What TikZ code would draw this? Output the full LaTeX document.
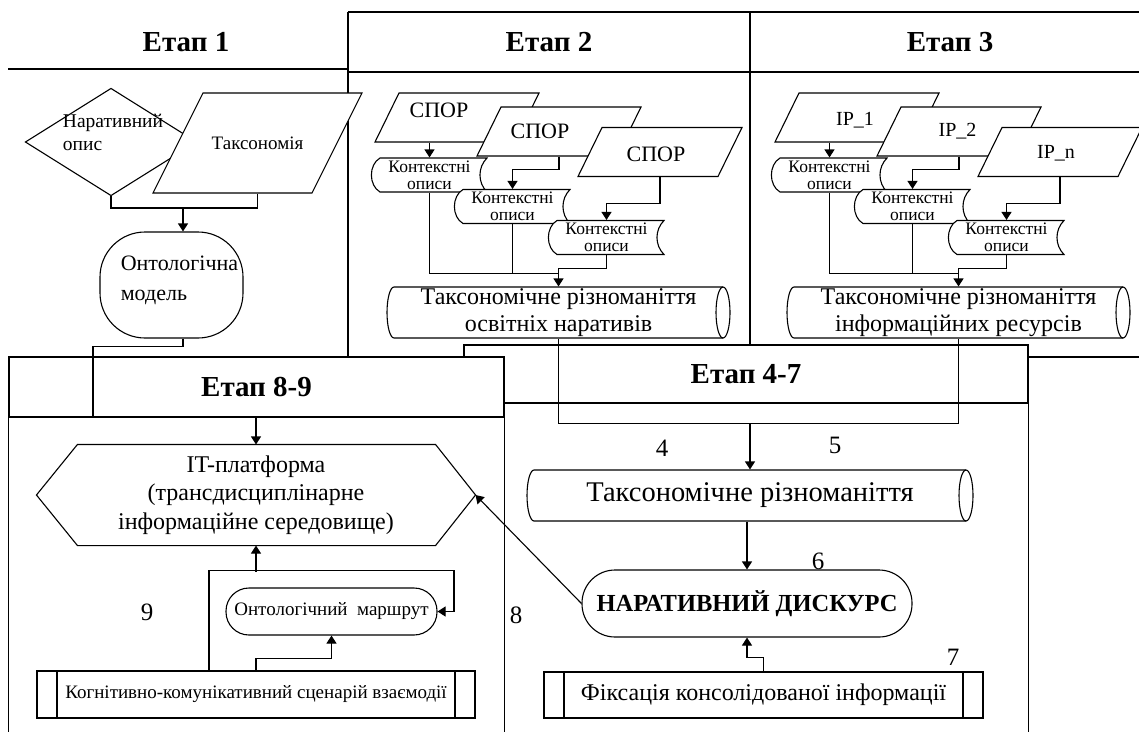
\documentclass[tikz,border=0pt]{standalone}
\usepackage{fontspec}
\setmainfont{Liberation Serif}
\usetikzlibrary{arrows.meta}

% parallelogram: name, centre, side, height, slant, label style, text
\newcommand{\paranode}[7]{%
  \draw[fill=white] (#2) ++({-(#3+#5)/2},{#4/2}) -- ++(#3,0) -- ++(#5,{-#4}) -- ++({-#3},0) -- cycle;
  \node[box, minimum width=#3pt, minimum height=#4pt, label={[#6]center:{#7}}] (#1) at (#2) {};
}
% stored data: name, centre, text
\newcommand{\storednode}[3]{%
  \draw[fill=white] (#2) ++(-49.5,-17) -- ++(107,0) to[out=225,in=135] ++(0,34)
    -- ++(-107,0) to[out=150,in=210] ++(0,-34) -- cycle;
  \node[box, kont, minimum width=115pt, minimum height=34pt] (#1) at (#2) {#3};
}
% cylinder: name, centre, width, height, style, text
\newcommand{\cylnode}[6]{%
  \draw[fill=white] (#2) ++({-#3/2+7},{-#4/2}) -- ++({#3-14},0)
    arc[start angle=90, end angle=-90, x radius=7pt, y radius={#4*0.5pt}]
    -- ++({14-#3},0)
    arc[start angle=270, end angle=90, x radius=7pt, y radius={#4*0.5pt}] -- cycle;
  \draw (#2) ++({#3/2-7},{-#4/2}) arc[start angle=90, end angle=270, x radius=7pt, y radius={#4*0.5pt}];
  \node[box, #5, minimum width=#3pt, minimum height=#4pt] (#1) at (#2) {#6};
}

\begin{document}
\begin{tikzpicture}[
  x=1pt, y=-1pt,
  line width=1.1pt,
  every node/.style={font=\fontsize{19}{23}\selectfont},
  box/.style={rectangle, inner sep=0pt, align=center},
  head/.style={font=\bfseries\fontsize{29}{34}\selectfont},
  kont/.style={font=\fontsize{17.5}{17}\selectfont},
  big/.style={font=\fontsize{24}{27}\selectfont},
  spor/.style={font=\fontsize{22}{26}\selectfont},
  ip/.style={font=\fontsize{20}{24}\selectfont},
  num/.style={font=\fontsize{25}{30}\selectfont},
  subproc/.style={draw, path picture={
    \draw ([xshift=20pt]path picture bounding box.north west) -- ([xshift=20pt]path picture bounding box.south west);
    \draw ([xshift=-20pt]path picture bounding box.north east) -- ([xshift=-20pt]path picture bounding box.south east);}},
  >={Triangle[length=8pt,width=10pt]}
]
\useasboundingbox (0,0) rectangle (1139,731);

% Stage frames
\draw (8,69) -- (348,69);
\draw (348,12) -- (1139,12);
\draw (348,72) -- (1139,72);
\draw (348,12) -- (348,357);
\draw (750,12) -- (750,357);
\draw (348,357) -- (1139,357);
\node[head] (h1) at (186,42) {Етап 1};
\node[head] (h2) at (549,42) {Етап 2};
\node[head] (h3) at (950,42) {Етап 3};
\node[head, box, draw, fill=white, minimum width=564pt, minimum height=58pt] (h47) at (746,374) {Етап 4-7};
\node[head, box, draw, fill=white, minimum width=495pt, minimum height=60pt] (h89) at (256.5,387) {Етап 8-9};
\draw (h89.south west) -- ++(0,314);
\draw (h89.south east) -- ++(0,314);
\draw (h47.south east) -- ++(0,328);

% Stage 1
\node[box, minimum width=170pt, minimum height=106pt,
  label={[font=\fontsize{19.5}{23}\selectfont, align=left, xshift=2pt, yshift=10pt]center:Наративний\\опис}] (narr) at (111,142) {};
\draw (narr.west) -- (narr.north) -- (narr.east) -- (narr.south) -- cycle;
\paranode{taks}{257.5,143}{159}{100}{50}{}{Таксономія}
\node[box, draw, rounded corners=45pt, minimum width=143pt, minimum height=106pt,
  label={[font=\fontsize{22}{30}\selectfont, align=left, xshift=8pt, yshift=5pt]center:Онтологічна\\модель}] (onto) at (171.5,285) {};

% Stage 2
\paranode{spor1}{457,117.5}{140}{49}{24}{spor, xshift=-18pt, yshift=7.5pt}{СПОР}
\paranode{spor2}{559,131.5}{140}{49}{24}{spor, xshift=-19pt}{СПОР}
\paranode{spor3}{660,152}{140}{49}{24}{spor, xshift=-4pt, yshift=-2pt}{СПОР}
\storednode{ko1}{429.5,175}{Контекстні\\описи}
\storednode{ko2}{512.5,206.5}{Контекстні\\описи}
\storednode{ko3}{606.5,237.5}{Контекстні\\описи}
\cylnode{div2}{558.5,312.5}{343}{51}{big}{Таксономічне різноманіття\\освітніх наративів}

% Stage 3
\paranode{ip1}{857,117.5}{140}{49}{24}{ip, xshift=-2pt, yshift=-2.5pt}{IP\_1}
\paranode{ip2}{959,131.5}{140}{49}{24}{ip, xshift=-1.5pt}{IP\_2}
\paranode{ipn}{1060,152}{140}{49}{24}{ip, xshift=-4pt, yshift=-1pt}{IP\_n}
\storednode{ko4}{829.5,175}{Контекстні\\описи}
\storednode{ko5}{912.5,206.5}{Контекстні\\описи}
\storednode{ko6}{1006.5,237.5}{Контекстні\\описи}
\cylnode{div3}{958.5,312.5}{343}{51}{big}{Таксономічне різноманіття\\інформаційних ресурсів}

% Stage 4-7
\cylnode{div}{750,495.5}{446}{51}{font=\fontsize{28.5}{32}\selectfont}{Таксономічне різноманіття}
\node[box, draw, rounded corners=33pt, minimum width=330pt, minimum height=67pt,
  font=\bfseries\fontsize{24.5}{28}\selectfont] (disc) at (747,603.5) {НАРАТИВНИЙ ДИСКУРС};
\node[box, subproc, minimum width=439pt, minimum height=46pt,
  font=\fontsize{24}{28}\selectfont] (fix) at (763.5,695) {Фіксація консолідованої інформації};

% Stage 8-9
\node[box, minimum width=438pt, minimum height=100pt, font=\fontsize{24}{28.5}\selectfont] (itp) at (256,495)
  {IT-платформа\\(трансдисциплінарне\\інформаційне середовище)};
\draw (itp.west) -- ([xshift=41pt]itp.north west) -- ([xshift=-40pt]itp.north east) -- (itp.east)
  -- ([xshift=-40pt]itp.south east) -- ([xshift=41pt]itp.south west) -- cycle;
\node[box, draw, rounded corners=23pt, minimum width=211pt, minimum height=47pt,
  font=\fontsize{19}{23}\selectfont] (route) at (331.5,611.5) {Онтологічний\ \ маршрут};
\node[box, subproc, minimum width=438pt, minimum height=47pt] (scen) at (256,694.5)
  {Когнітивно-комунікативний сценарій взаємодії};

% Numbers
\node[num] (n4) at (662,448) {4};
\node[num] (n5) at (835,445) {5};
\node[num] (n6) at (818,561) {6};
\node[num] (n7) at (953,657) {7};
\node[num] (n8) at (516,615) {8};
\node[num] (n9) at (147,612) {9};

% Arrows stage 1
\coordinate (j1) at (183,208);
\draw (narr.south) |- (j1);
\draw (taks.south) |- (j1);
\draw[->] (j1) -- (j1 |- onto.north);
\draw[->] (j1 |- onto.south) -- ++(0,8) -- ++(-90,0) |- ([yshift=27pt]itp.north) -- (itp.north);

% Arrows stage 2
\draw[->] (spor1.south -| ko1.north) -- (ko1.north);
\draw[->] (spor2.south) -- ++(0,13) -| (ko2.north);
\draw[->] (spor3.south) -- ++(0,26) -| (ko3.north);
\coordinate (j2) at ([yshift=13pt]div2.north);
\draw (ko1.south) |- (j2);
\draw (ko2.south) -- (ko2.south |- j2);
\draw[->] (ko3.south) -- ++(0,13) -| (div2.north);

% Arrows stage 3
\draw[->] (ip1.south -| ko4.north) -- (ko4.north);
\draw[->] (ip2.south) -- ++(0,13) -| (ko5.north);
\draw[->] (ipn.south) -- ++(0,26) -| (ko6.north);
\coordinate (j3) at ([yshift=13pt]div3.north);
\draw (ko4.south) |- (j3);
\draw (ko5.south) -- (ko5.south |- j3);
\draw[->] (ko6.south) -- ++(0,13) -| (div3.north);

% Arrows stage 4-7
\coordinate (j4) at ([yshift=46pt]div.north);
\draw (div2.south) |- (j4) -| (div3.south);
\draw[->] (j4) -- (div.north);
\draw[->] (div.south -| disc.north) -- (disc.north);
\draw[->] (fix.north) -- ++(0,-14) -| (disc.south);
\draw[->] (disc.west) -- (itp.east);

% Arrows stage 8-9
\draw[->] ([xshift=-47pt]scen.north) -- ++(0,-100) -- ++(245,0) |- (route.east);
\draw[->] ([yshift=-26pt]itp.south) -- (itp.south);
\draw[->] (scen.north) -- ++(0,-12) -| (route.south);

\end{tikzpicture}
\end{document}
